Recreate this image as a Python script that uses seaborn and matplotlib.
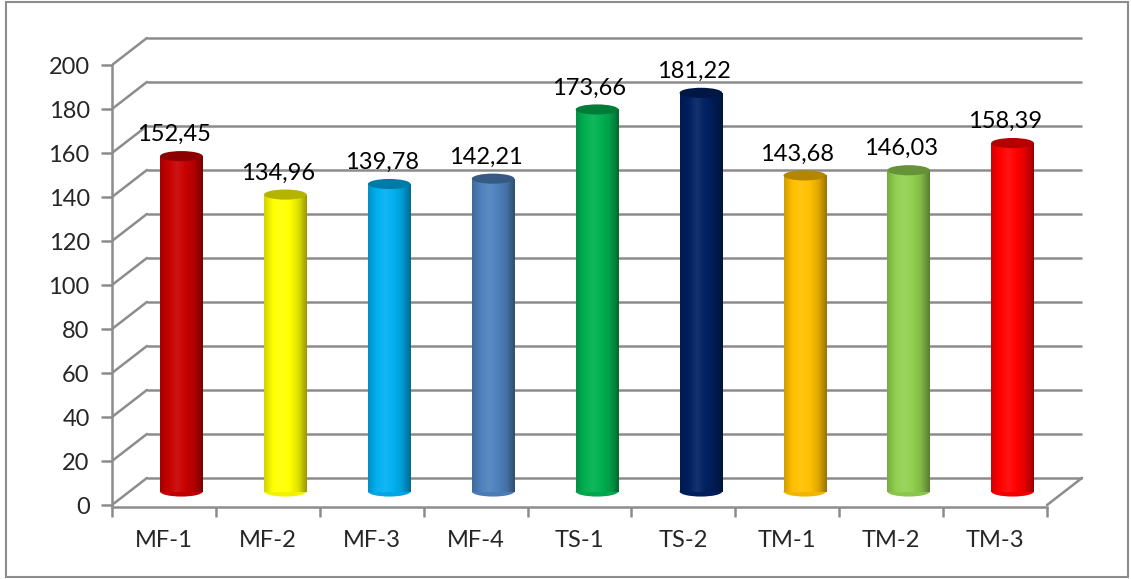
import numpy as np
import pandas as pd
import seaborn as sns
import matplotlib.pyplot as plt
import matplotlib.transforms as mtransforms
from matplotlib.colors import LinearSegmentedColormap, to_rgb
from matplotlib.patches import Ellipse, Rectangle

# Data
samples = ['MF-1', 'MF-2', 'MF-3', 'MF-4', 'TS-1', 'TS-2', 'TM-1', 'TM-2', 'TM-3']
values = [152.45, 134.96, 139.78, 142.21, 173.66, 181.22, 143.68, 146.03, 158.39]
bar_colors = ['#C80000', '#FFFF00', '#00B0F0', '#4F81BD', '#00B050',
              '#002060', '#FFC000', '#92D050', '#FF0000']
y_ticks = [0, 20, 40, 60, 80, 100, 120, 140, 160, 180, 200]

df = pd.DataFrame({'sample': samples, 'value': values})

sns.set_style('white')
plt.rcParams['font.family'] = ['Lato', 'DejaVu Sans']

fig = plt.figure(figsize=(11.31, 5.79), dpi=100)
ax = fig.add_axes([0.0990, 0.1088, 0.8727, 0.8359])

grid_col = '#8C8C8C'
depth_x, depth_y = 0.337, 12.3  # back wall offset in data units

# 3D-ish back wall grid
for v in y_ticks:
    ax.plot([-0.5 + depth_x, 8.5 + depth_x], [v + depth_y, v + depth_y],
            color=grid_col, lw=1.8, zorder=0, solid_capstyle='butt')
    ax.plot([-0.5, -0.5 + depth_x], [v, v + depth_y], color=grid_col, lw=1.8, zorder=0)
ax.plot([8.5, 8.5 + depth_x], [0, depth_y], color=grid_col, lw=1.8, zorder=0)

# bars, shifted half the depth back
sns.barplot(data=df, x='sample', y='value', hue='sample', palette=bar_colors,
            width=0.41, legend=False, ax=ax, saturation=1, zorder=2)

shift = mtransforms.offset_copy(ax.transData, fig=fig, x=17.5, y=13.5, units='dots')
ell_h = 4.6
for patch, col in zip(ax.patches, bar_colors):
    patch.set_transform(shift)
    patch.set_edgecolor('none')
    x0, w, h = patch.get_x(), patch.get_width(), patch.get_height()
    c = np.array(to_rgb(col))
    light = c + (1 - c) * 0.08
    cmap = LinearSegmentedColormap.from_list('cyl', [c * 0.82, c, light, c, c * 0.88, c * 0.6])
    grad = np.linspace(0, 1, 200).reshape(1, -1)
    im = ax.imshow(grad, extent=[x0, x0 + w, 0, h], cmap=cmap, aspect='auto',
                   transform=shift, zorder=2.1)
    im.set_clip_path(patch)
    bottom = Ellipse((x0 + w / 2, 0), w, ell_h, facecolor=c * 0.95, edgecolor='none',
                     transform=shift, zorder=2.05)
    ax.add_patch(bottom)
    top = Ellipse((x0 + w / 2, h), w, ell_h, facecolor=c * 0.7, edgecolor='none',
                  transform=shift, zorder=2.3)
    ax.add_patch(top)
    # label sits a little left of the (shifted) bar centre
    ax.annotate(f'{h:.2f}'.replace('.', ','), (x0 + w / 2, h), xytext=(10, 35),
                textcoords='offset pixels', ha='center', va='center', fontsize=17,
                color='black', zorder=3)

ax.set_xlim(-0.5, 9.0)
ax.set_ylim(-5, 215)

# axes lines
for s in ['top', 'right']:
    ax.spines[s].set_visible(False)
ax.spines['left'].set_bounds(0, 200)
ax.spines['left'].set_color(grid_col)
ax.spines['left'].set_linewidth(1.8)
ax.spines['bottom'].set_position(('data', -0.8))
ax.spines['bottom'].set_bounds(-0.5, 8.5)
ax.spines['bottom'].set_color(grid_col)
ax.spines['bottom'].set_linewidth(1.8)

ax.set_yticks(y_ticks)
ax.set_yticklabels([str(t) for t in y_ticks], fontsize=17)
ax.set_xticks(range(len(samples)))
ax.set_xticklabels(samples, fontsize=17)
ax.set_xticks(np.arange(-0.5, 9, 1), minor=True)
ax.tick_params(axis='y', left=True, length=8, width=1.8, color=grid_col, pad=8)
ax.tick_params(axis='x', which='major', length=0, pad=17)
ax.tick_params(axis='x', which='minor', bottom=True, length=7, width=1.8, color=grid_col)
ax.set_xlabel('')
ax.set_ylabel('')

# chart border
fig.patches.append(Rectangle((6 / 1131, 2 / 579), 1122 / 1131, 575 / 579,
                             transform=fig.transFigure, fill=False,
                             edgecolor='#8C8C8C', lw=1.5))

fig.savefig('out.png', dpi=100)
